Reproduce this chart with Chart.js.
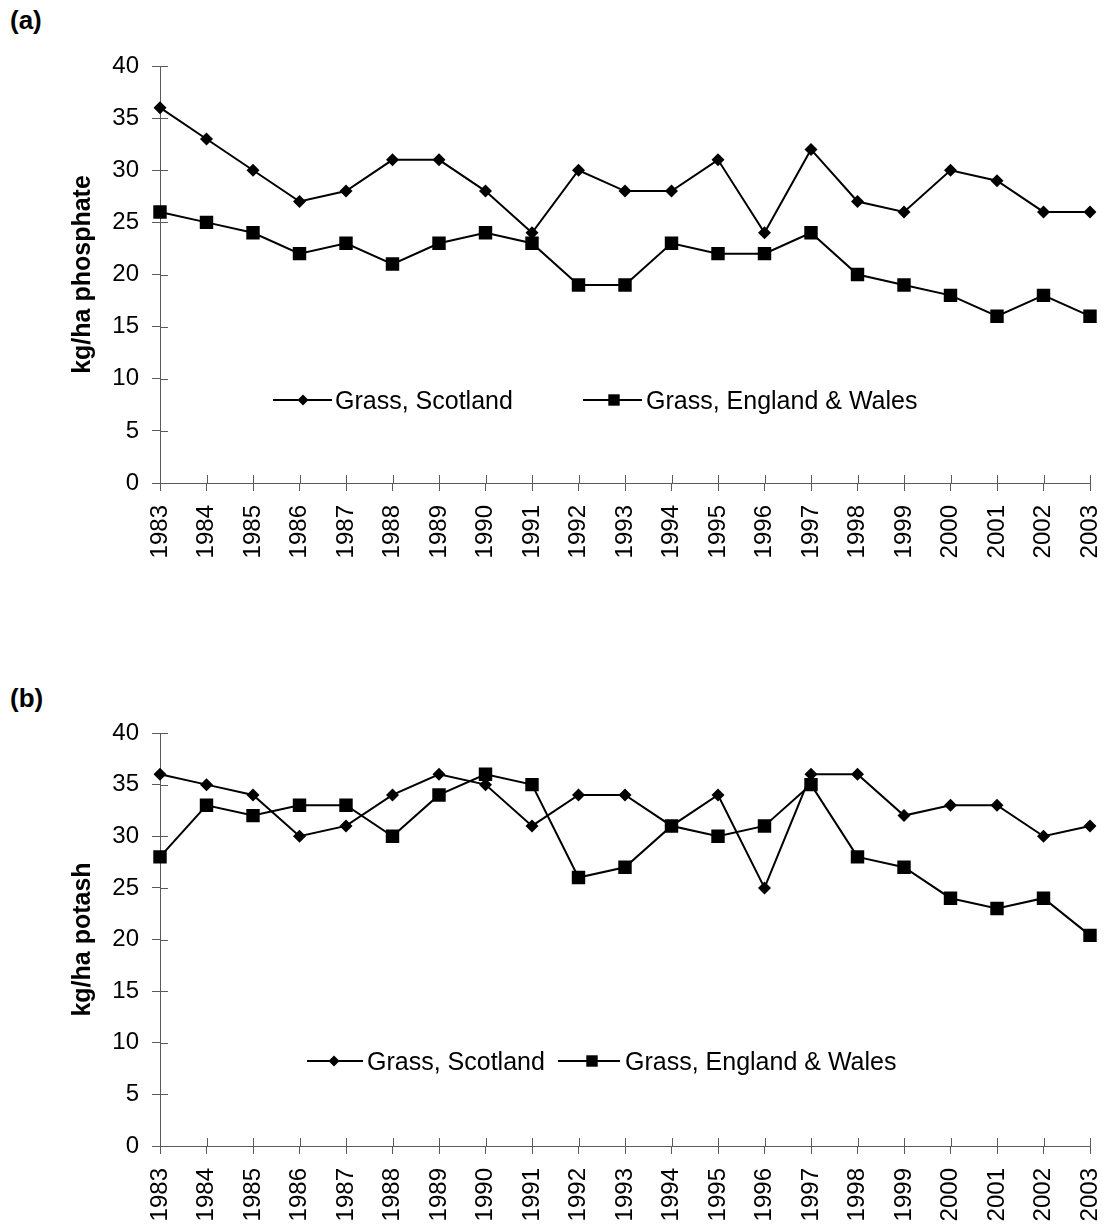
<!DOCTYPE html>
<html><head><meta charset="utf-8">
<script src="https://cdn.jsdelivr.net/npm/chart.js@4/dist/chart.umd.min.js"></script>
<style>
html,body{margin:0;padding:0;background:#fff;}
body{width:1117px;height:1224px;position:relative;overflow:hidden;font-family:"Liberation Sans",Arial,sans-serif;}
.wrap{position:absolute;left:0;width:1117px;height:612px;}
.panel{position:absolute;left:10px;font-weight:bold;font-size:26px;line-height:28px;color:#000;}
</style></head><body>
<div class="panel" style="top:6px">(a)</div>
<div class="panel" style="top:684px">(b)</div>
<div class="wrap" style="top:0"><canvas id="ca" width="1117" height="612"></canvas></div>
<div class="wrap" style="top:612px"><canvas id="cb" width="1117" height="612"></canvas></div>
<script>
// ---- data ----
const years = ['1983','1984','1985','1986','1987','1988','1989','1990','1991','1992','1993','1994','1995','1996','1997','1998','1999','2000','2001','2002','2003'];
const seriesLabels = ['Grass, Scotland', 'Grass, England & Wales'];
const phosphateScotland = [36,33,30,27,28,31,31,28,24,30,28,28,31,24,32,27,26,30,29,26,26];
const phosphateEnglandWales = [26,25,24,22,23,21,23,24,23,19,19,23,22,22,24,20,19,18,16,18,16];
const potashScotland = [36,35,34,30,31,34,36,35,31,34,34,31,34,25,36,36,32,33,33,30,31];
const potashEnglandWales = [28,33,32,33,33,30,34,36,35,26,27,31,30,31,35,28,27,24,23,24,20.4];
const yMin = 0, yMax = 40, yStep = 5;
const yTitleA = 'kg/ha phosphate';
const yTitleB = 'kg/ha potash';

const FONT = '"Liberation Sans", Arial, sans-serif';
const AXIS = '#5a5a5a';

function drawMarker(ctx, style, r, x, y) {
  ctx.beginPath();
  if (style === 'rectRot') {
    ctx.moveTo(x, y - r); ctx.lineTo(x + r, y); ctx.lineTo(x, y + r); ctx.lineTo(x - r, y);
  } else {
    const s = r * Math.SQRT1_2;
    ctx.rect(x - s, y - s, 2 * s, 2 * s);
  }
  ctx.closePath();
  ctx.fill();
}

const insideLegend = {
  id: 'insideLegend',
  afterDatasetsDraw(chart, args, opts) {
    const ctx = chart.ctx;
    const y = opts.y;
    ctx.save();
    chart.data.datasets.forEach((ds, i) => {
      const it = opts.items[i];
      ctx.strokeStyle = '#000'; ctx.lineWidth = ds.borderWidth;
      ctx.beginPath(); ctx.moveTo(it.x0, y); ctx.lineTo(it.x1, y); ctx.stroke();
      ctx.fillStyle = '#000';
      drawMarker(ctx, ds.pointStyle, ds.pointRadius * 0.85, it.mx, y);
      ctx.font = opts.font; ctx.textBaseline = 'middle'; ctx.textAlign = 'left';
      ctx.fillText(ds.label, it.tx, y + 2);
    });
    ctx.restore();
  }
};

// inner half of the crossing tick marks
const crossTicks = {
  id: 'crossTicks',
  afterDraw(chart) {
    const ctx = chart.ctx, xs = chart.scales.x, ys = chart.scales.y;
    const a = chart.chartArea;
    ctx.save();
    ctx.strokeStyle = AXIS; ctx.lineWidth = 1;
    ctx.beginPath();
    xs.ticks.forEach((t, i) => {
      const px = Math.round(xs.getPixelForTick(i)) + 0.5;
      ctx.moveTo(px, a.bottom - 8); ctx.lineTo(px, a.bottom);
    });
    ys.ticks.forEach((t, i) => {
      const py = Math.round(ys.getPixelForTick(i)) + 0.5;
      ctx.moveTo(a.left, py); ctx.lineTo(a.left + 8, py);
    });
    ctx.stroke();
    ctx.restore();
  }
};

function makeChart(id, s1, s2, title, padTop, xHeight, legend) {
  return new Chart(document.getElementById(id), {
    type: 'line',
    data: {
      labels: years,
      datasets: [
        { label: seriesLabels[0], data: s1, borderColor: '#000', backgroundColor: '#000', borderWidth: 2,
          pointStyle: 'rectRot', pointRadius: 6.5, pointBackgroundColor: '#000', pointBorderWidth: 0, tension: 0 },
        { label: seriesLabels[1], data: s2, borderColor: '#000', backgroundColor: '#000', borderWidth: 2,
          pointStyle: 'rect', pointRadius: 9.5, pointBackgroundColor: '#000', pointBorderWidth: 0, tension: 0 }
      ]
    },
    options: {
      responsive: false, animation: false, devicePixelRatio: 1,
      layout: { padding: { top: padTop, right: 27, left: 0, bottom: 0 } },
      plugins: { legend: { display: false }, tooltip: { enabled: false }, insideLegend: legend },
      scales: {
        x: {
          type: 'category', offset: false,
          grid: { drawOnChartArea: false, drawTicks: true, tickLength: 8, color: AXIS, lineWidth: 1 },
          border: { display: true, color: AXIS, width: 1 },
          ticks: { color: '#000', font: { family: FONT, size: 24 }, maxRotation: 90, minRotation: 90, padding: 14, autoSkip: false },
          afterFit: s => { s.height = xHeight; s.paddingLeft = 0; s.paddingRight = 0; }
        },
        y: {
          min: yMin, max: yMax,
          grid: { drawOnChartArea: false, drawTicks: true, tickLength: 8, color: AXIS, lineWidth: 1 },
          border: { display: true, color: AXIS, width: 1 },
          ticks: { stepSize: yStep, color: '#000', font: { family: FONT, size: 24 }, padding: 13 },
          title: { display: true, text: title, color: '#000', font: { family: FONT, size: 25, weight: 'bold' }, padding: { top: 68, bottom: 0 } },
          afterFit: s => { s.width = 160; }
        }
      }
    },
    plugins: [insideLegend, crossTicks]
  });
}

makeChart('ca', phosphateScotland, phosphateEnglandWales, yTitleA, 66, 612 - 483,
  { y: 400, font: '25px ' + FONT,
    items: [ { x0: 273, x1: 332, mx: 303, tx: 335 }, { x0: 583, x1: 642, mx: 614, tx: 646 } ] });
makeChart('cb', potashScotland, potashEnglandWales, yTitleB, 733 - 612, 612 - (1146 - 612),
  { y: 1061 - 612, font: '25px ' + FONT,
    items: [ { x0: 307, x1: 363, mx: 334, tx: 367 }, { x0: 558, x1: 620, mx: 592, tx: 625 } ] });
</script>
</body></html>
